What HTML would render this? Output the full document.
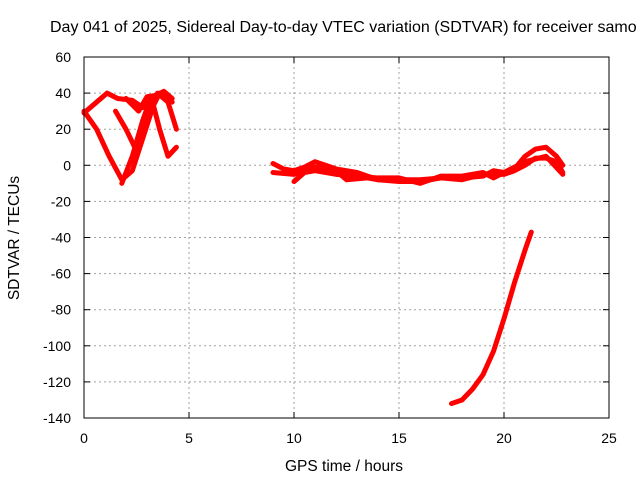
<!DOCTYPE html>
<html><head><meta charset="utf-8"><style>
body{margin:0;background:#fff;overflow:hidden}
svg{font-family:"Liberation Sans",sans-serif}
</style></head><body>
<svg width="640" height="480" id="c">
<text x="50" y="32" font-size="16">Day 041 of 2025, Sidereal Day-to-day VTEC variation (SDTVAR) for receiver samo</text>
<text x="344" y="471" font-size="15.5" text-anchor="middle">GPS time / hours</text>
<text transform="translate(19,238) rotate(-90)" font-size="15.5" text-anchor="middle">SDTVAR / TECUs</text>
<g id="grid"></g><g id="series"></g>
<rect x="84" y="57" width="525" height="361" fill="none" stroke="#000" stroke-width="1"/>
</svg>
<script>
const xTicks=[0,5,10,15,20,25];
const yTicks=[60,40,20,0,-20,-40,-60,-80,-100,-120,-140];
const trackA=[[0,29],[0.5,34],[1.1,40],[1.6,37],[2.3,36],[2.8,32],[3.3,38],[3.8,41],[4.2,37]];
const trackB=[[0,30],[0.6,20],[1.2,5],[1.8,-8],[2.3,-3],[2.8,15],[3.3,33],[3.6,40]];
const trackC=[[1.8,-10],[2.3,5],[2.8,25],[3.2,38],[3.6,20],[4.0,5],[4.4,10]];
const trackD=[[1.5,30],[2.0,20],[2.5,8],[3.0,25],[3.5,40],[4.0,35],[4.4,20]];
const trackE=[[2.0,37],[2.6,30],[3.0,38],[3.6,39],[4.2,35]];
const trackM1=[[9,1],[9.5,-2],[10,-3],[10.5,-1],[11,2],[11.5,0],[12,-2],[13,-4],[13.5,-6],[14,-8],[15,-8],[16,-8],[17,-7],[18,-7],[19,-6],[19.5,-3],[20,-4],[20.5,-2],[21,5],[21.5,9],[22,10],[22.5,5],[22.8,0]];
const trackM2=[[9,-4],[10,-5],[10.5,-3],[11,-1],[12,-3],[12.5,-8],[13.5,-7],[14,-8],[15,-9],[16,-9],[17,-7],[18,-8],[19,-5],[20,-5],[20.5,-3],[21,0],[21.5,4],[22,4],[22.5,2],[22.8,-4]];
const trackM3=[[10,-9],[10.5,-4],[11,-3],[12,-5],[13,-6],[14,-7],[15,-7],[16,-10],[17,-6],[18,-6],[19,-4],[19.5,-7],[20,-4],[21,2],[22,5],[22.8,-5]];
const trackLow=[[17.5,-132],[18,-130],[18.5,-124],[19,-116],[19.5,-103],[20,-85],[20.5,-65],[21,-47],[21.3,-37]];
const tracks=[trackA,trackB,trackC,trackD,trackE,trackM1,trackM2,trackM3,trackLow];
const X0=84,X1=609,Y0=418,Y1=57;
const sx=v=>X0+(v-0)/(25-0)*(X1-X0);
const sy=v=>Y0-(v+140)/(200)*(Y0-Y1);
const NS="http://www.w3.org/2000/svg";
const g=document.getElementById('grid'),s=document.getElementById('series');
function mk(t,a,p){const e=document.createElementNS(NS,t);for(const k in a)e.setAttribute(k,a[k]);p.appendChild(e);return e;}
xTicks.forEach(v=>{const x=sx(v);
 if(v>0&&v<25){const l=mk('line',{x1:x,x2:x,y1:Y1,y2:Y0,stroke:'#a0a0a0','stroke-dasharray':'2,3'},g);}
 mk('line',{x1:x,x2:x,y1:Y0,y2:Y0-6,stroke:'#000'},g);mk('line',{x1:x,x2:x,y1:Y1,y2:Y1+6,stroke:'#000'},g);
 const t=mk('text',{x:x,y:443,'font-size':14,'text-anchor':'middle'},g);t.textContent=v;
 });
yTicks.forEach(v=>{const y=sy(v);
 if(v<60&&v>-140){const l=mk('line',{x1:X0,x2:X1,y1:y,y2:y,stroke:'#a0a0a0','stroke-dasharray':'2,3'},g);}
 mk('line',{x1:X0,x2:X0+6,y1:y,y2:y,stroke:'#000'},g);mk('line',{x1:X1,x2:X1-6,y1:y,y2:y,stroke:'#000'},g);
 const t=mk('text',{x:71,y:y+5,'font-size':14,'text-anchor':'end'},g);t.textContent=v;
 });
tracks.forEach(tr=>{
 const p=mk('polyline',{points:tr.map(d=>sx(d[0])+','+sy(d[1])).join(' '),fill:'none',stroke:'#ff0000','stroke-width':5,'stroke-linejoin':'round','stroke-linecap':'round'},s);
 
 
});
</script>
</body></html>
